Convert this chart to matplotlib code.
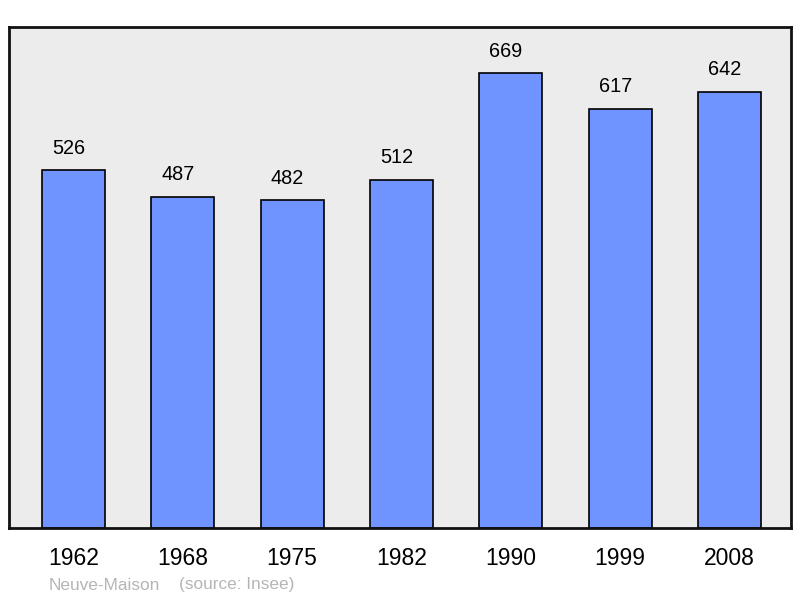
import matplotlib
matplotlib.use("Agg")
import matplotlib.pyplot as plt

years = ["1962", "1968", "1975", "1982", "1990", "1999", "2008"]
population = [526, 487, 482, 512, 669, 617, 642]
commune = "Neuve-Maison"
source = "(source: Insee)"

plt.rcParams['font.family'] = ['Liberation Sans', 'DejaVu Sans']

fig = plt.figure(figsize=(8, 5.98), dpi=100)
ax = fig.add_axes([9/800, 70/598, 782/800, 501/598])
ax.set_facecolor('#ececec')

x = range(len(years))
ax.bar(x, population, width=0.576, color='#7094ff', edgecolor='black', linewidth=1.2, zorder=2)

# value labels sit a bit left of the bar centre, like the original
for xi, v in zip(x, population):
    ax.annotate(str(v), (xi, v), xytext=(-3.6, 9), textcoords='offset points',
                ha='center', va='bottom', fontsize=14.3)

ax.set_xlim(-0.59, 6.5625)
ax.set_ylim(0, 737)
ax.set_xticks(list(x))
ax.set_xticklabels(years, fontsize=16.5)
ax.tick_params(axis='x', length=0, pad=14)
ax.set_yticks([])
for s in ax.spines.values():
    s.set_linewidth(2)
    s.set_color('#111111')

fig.text(49/800, 1 - 585/598, commune, fontsize=12.4, color='#b5b5b5',
         ha='left', va='center')
fig.text(179/800, 1 - 585/598, source, fontsize=12.4, color='#b5b5b5',
         ha='left', va='center')

fig.savefig('out.png', dpi=100)
